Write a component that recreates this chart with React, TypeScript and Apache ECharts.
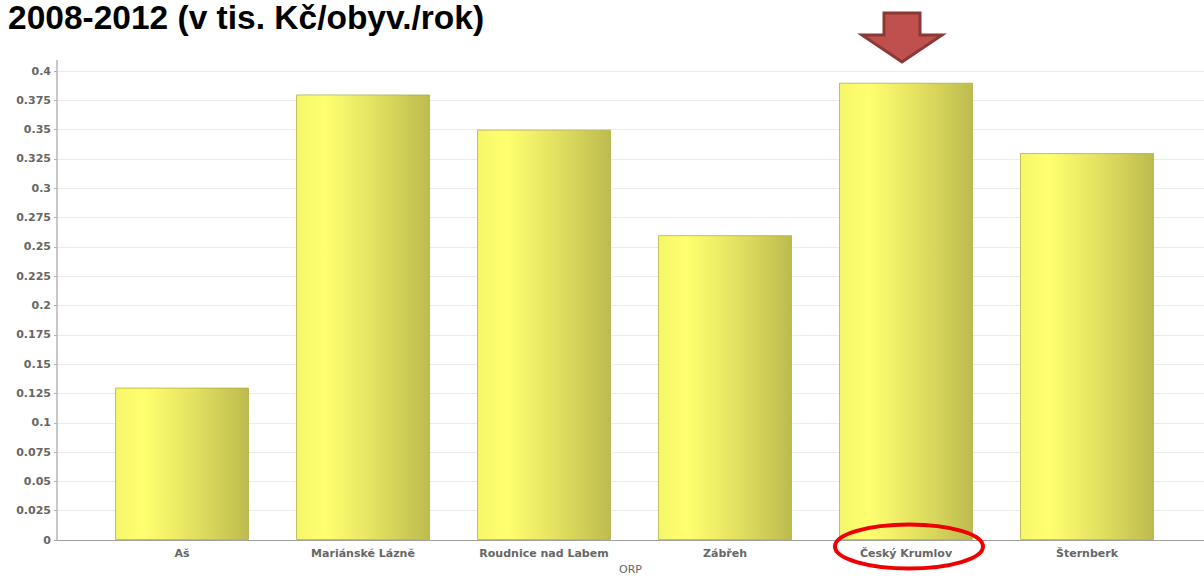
import React, { useEffect, useRef } from "react";
import * as echarts from "echarts";

const titleText = "2008-2012 (v tis. Kč/obyv./rok)";
const categories = ["Aš", "Mariánské Lázně", "Roudnice nad Labem", "Zábřeh", "Český Krumlov", "Šternberk"];
const values = [0.13, 0.38, 0.35, 0.26, 0.39, 0.33];
const xAxisName = "ORP";
const yMin = 0;
const yMax = 0.4;
const yStep = 0.025;

export default function App() {
  const ref = useRef<HTMLDivElement>(null);
  useEffect(() => {
    document.body.style.margin = "0";
    const chart = echarts.init(ref.current!, null, { renderer: "svg" });
    const barGradient = new echarts.graphic.LinearGradient(0, 0, 1, 0, [
      { offset: 0, color: "#f6f66a" },
      { offset: 0.22, color: "#ffff70" },
      { offset: 0.6, color: "#e2e060" },
      { offset: 1, color: "#bdbb4e" },
    ]);
    chart.setOption({
      animation: false,
      backgroundColor: "#ffffff",
      title: {
        text: titleText,
        left: 8,
        top: 0,
        padding: 0,
        textStyle: {
          fontFamily: "Liberation Sans, Arial, sans-serif",
          fontWeight: "bold",
          fontSize: 33.5,
          color: "#000000",
        },
      },
      grid: [
        { left: 57, right: 0, top: 71, bottom: 38, outerBoundsMode: "none", containLabel: false },
        { left: 91.5, width: 1086, top: 71, bottom: 38, outerBoundsMode: "none", containLabel: false },
      ],
      xAxis: [
        {
          gridIndex: 0,
          type: "value",
          min: 0,
          max: 1,
          axisLine: { show: true, onZero: false, lineStyle: { color: "#a0a0a0", width: 1 } },
          axisTick: { show: false },
          axisLabel: { show: false },
          splitLine: { show: false },
          name: xAxisName,
          nameLocation: "middle",
          nameGap: 24,
          nameTextStyle: { fontFamily: "DejaVu Sans, sans-serif", fontSize: 11, color: "#666666" },
        },
        {
          gridIndex: 1,
          type: "category",
          data: categories,
          axisLine: { show: false },
          axisTick: { show: false },
          axisLabel: {
            margin: 8,
            fontFamily: "DejaVu Sans, sans-serif",
            fontWeight: "bold",
            fontSize: 11,
            color: "#666666",
          },
        },
      ],
      yAxis: [
        {
          gridIndex: 0,
          type: "value",
          min: yMin,
          max: yMax,
          interval: yStep,
          axisLine: { show: true, lineStyle: { color: "#c8c8c8", width: 2 } },
          axisTick: { show: true, length: 3, lineStyle: { color: "#b0b0b0" } },
          axisLabel: {
            margin: 6,
            fontFamily: "DejaVu Sans, sans-serif",
            fontWeight: "bold",
            fontSize: 11,
            color: "#666666",
          },
          splitLine: { show: true, lineStyle: { color: "#ebebeb", width: 1 } },
        },
        {
          gridIndex: 1,
          type: "value",
          min: yMin,
          max: yMax,
          interval: yStep,
          axisLine: { show: false },
          axisTick: { show: false },
          axisLabel: { show: false },
          splitLine: { show: false },
        },
      ],
      series: [
        {
          type: "bar",
          xAxisIndex: 1,
          yAxisIndex: 1,
          data: values,
          barWidth: 134,
          itemStyle: {
            color: barGradient,
            borderColor: "rgba(170,168,60,0.7)",
            borderWidth: 1,
          },
        },
      ],
      graphic: [
        {
          type: "line",
          shape: { x1: 57, y1: 60, x2: 57, y2: 71 },
          style: { stroke: "#c8c8c8", lineWidth: 2 },
        },
        {
          type: "polygon",
          shape: {
            points: [
              [884, 13],
              [920, 13],
              [920, 35],
              [942, 35],
              [902, 62],
              [862, 35],
              [884, 35],
            ],
          },
          style: { fill: "#c0504d", stroke: "#8c3836", lineWidth: 3 },
          z: 100,
        },
        {
          type: "ellipse",
          shape: { cx: 909, cy: 546.5, rx: 74, ry: 22 },
          style: { fill: "none", stroke: "#ee0000", lineWidth: 4 },
          z: 100,
        },
      ],
    });
    return () => chart.dispose();
  }, []);
  return <div ref={ref} style={{ width: 1204, height: 578 }} />;
}
